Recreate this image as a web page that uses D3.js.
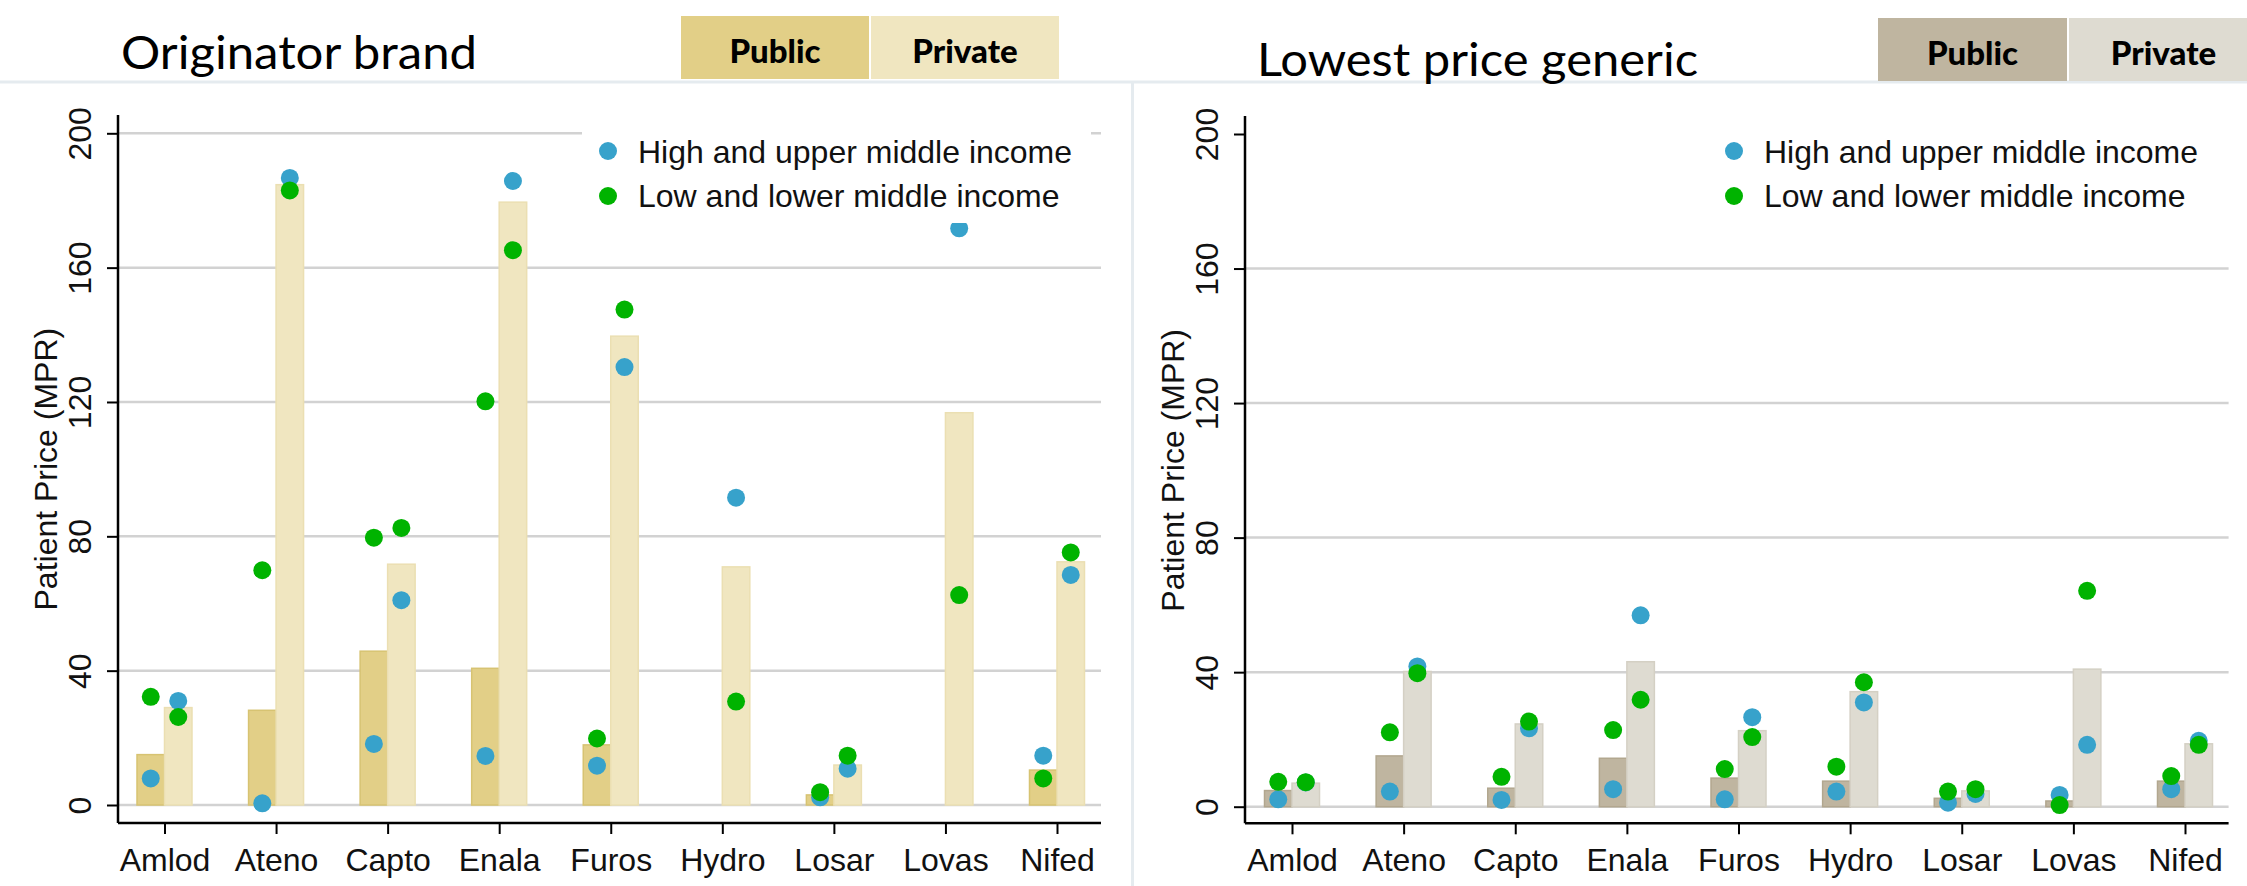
<!DOCTYPE html>
<html>
<head>
<meta charset="utf-8">
<script src="https://cdn.jsdelivr.net/npm/d3@7"></script>
<style>
  body { margin: 0; background: #fff; }
  svg { display: block; }
</style>
</head>
<body>
<div id="chart"></div>
<script>
// Drug names along the x axis.
var drugs = ["Amlod", "Ateno", "Capto", "Enala", "Furos", "Hydro", "Losar", "Lovas", "Nifed"];
var yTicks = [0, 40, 80, 120, 160, 200];
var seriesNames = ["High and upper middle income", "Low and lower middle income"];

// Originator brand: bars are sector medians, dots are income groups.
var origPublicBar   = [15, 28.2, 45.8, 40.7, 17.9, 0, 3, 0, 10.4];
var origPrivateBar  = [29, 184.7, 71.7, 179.5, 139.6, 70.9, 11.9, 116.8, 72.4];
var origPublicHigh  = [7.9, 0.5, 18.2, 14.6, 11.7, null, 2.3, null, 14.7];
var origPublicLow   = [32.2, 69.9, 79.6, 120.2, 19.8, null, 3.8, null, 7.9];
var origPrivateHigh = [31, 186.7, 61, 185.8, 130.4, 91.5, 10.8, 171.7, 68.5];
var origPrivateLow  = [26.2, 183, 82.5, 165.2, 147.5, 30.8, 14.7, 62.5, 75.2];

// Lowest price generic.
var genPublicBar   = [4.8, 15.1, 5.5, 14.4, 8.5, 7.6, 2.5, 1.7, 7.6];
var genPrivateBar  = [7, 40.2, 24.6, 43.1, 22.6, 34.2, 4.7, 40.9, 18.7];
var genPublicHigh  = [2.2, 4.5, 2, 5.2, 2.2, 4.5, 1.2, 3.5, 5.2];
var genPublicLow   = [7.4, 22.1, 8.9, 22.8, 11.2, 11.9, 4.5, 0.5, 9.1];
var genPrivateHigh = [7.2, 41.7, 23.3, 56.9, 26.6, 31, 3.8, 18.4, 19.6];
var genPrivateLow  = [7.3, 39.7, 25.3, 31.8, 20.7, 37, 5.2, 64.2, 18.4];

var width = 2247;
var height = 886;
var blue = "#37a2cb";
var green = "#00b300";
var barW = 27.5;

var panels = [
  {
    title: "Originator brand", titleX: 121, titleY: 69, titleLen: 356,
    boxX: 681, boxY: 16, boxW: 188, boxH: 63,
    pubFill: "#e2cf87", pubStroke: "#d7c372", privFill: "#f0e6c0", privStroke: "#ebdfb2",
    axisX: 118, right: 1101, top: 115, y0: 805, y200: 133.3, xAxisY: 823,
    cat0: 164.5, cat8: 1057, grid: yTicks,
    legendX: 582, legendW: 509,
    pubBar: origPublicBar, privBar: origPrivateBar,
    pubHigh: origPublicHigh, pubLow: origPublicLow,
    privHigh: origPrivateHigh, privLow: origPrivateLow
  },
  {
    title: "Lowest price generic", titleX: 1257, titleY: 76, titleLen: 441,
    boxX: 1878, boxY: 18, boxW: 189, boxH: 63,
    pubFill: "#bfb5a0", pubStroke: "#b2a78f", privFill: "#dedbd1", privStroke: "#d4d0c4",
    axisX: 1245, right: 2228.6, top: 116, y0: 806.7, y200: 134, xAxisY: 823.3,
    cat0: 1292, cat8: 2185, grid: yTicks.slice(0, 5),
    legendX: 1708, legendW: 520,
    pubBar: genPublicBar, privBar: genPrivateBar,
    pubHigh: genPublicHigh, pubLow: genPublicLow,
    privHigh: genPrivateHigh, privLow: genPrivateLow
  }
];

var svg = d3.select("#chart")
  .append("svg")
  .attr("width", width)
  .attr("height", height);

// Light panel frames.
svg.append("line")
  .attr("x1", 0).attr("x2", width)
  .attr("y1", 82).attr("y2", 82)
  .attr("stroke", "#e5ebef").attr("stroke-width", 3);
svg.append("line")
  .attr("x1", 1132.5).attr("x2", 1132.5)
  .attr("y1", 82).attr("y2", height)
  .attr("stroke", "#e5ebef").attr("stroke-width", 3);

panels.forEach(function(p) {
  var g = svg.append("g");

  var x = d3.scalePoint().domain(drugs).range([p.cat0, p.cat8]);
  var y = d3.scaleLinear().domain([0, 200]).range([p.y0, p.y200]);

  // Title and sector colour key.
  g.append("text")
    .attr("x", p.titleX).attr("y", p.titleY)
    .attr("textLength", p.titleLen).attr("lengthAdjust", "spacingAndGlyphs")
    .style("font-family", "Lato, 'Open Sans', sans-serif")
    .style("font-size", "46px")
    .text(p.title);

  var keys = [["Public", p.pubFill], ["Private", p.privFill]];
  keys.forEach(function(k, i) {
    var bx = p.boxX + i * (p.boxW + 2);
    g.append("rect")
      .attr("x", bx).attr("y", p.boxY)
      .attr("width", p.boxW).attr("height", p.boxH)
      .attr("fill", k[1]);
    g.append("text")
      .attr("x", bx + p.boxW / 2).attr("y", p.boxY + 47)
      .attr("text-anchor", "middle")
      .style("font-family", "Lato, 'Open Sans', sans-serif")
      .style("font-weight", "900")
      .style("font-size", "33px")
      .text(k[0]);
  });

  // Gridlines.
  g.selectAll(".grid")
    .data(p.grid)
    .enter().append("line")
    .attr("x1", p.axisX).attr("x2", p.right)
    .attr("y1", function(d) { return y(d); })
    .attr("y2", function(d) { return y(d); })
    .attr("stroke", "#d2d2d2").attr("stroke-width", 2.5);

  // Bars: public to the left of the tick, private to the right.
  var rows = drugs.map(function(d, i) {
    return {
      drug: d, pub: p.pubBar[i], priv: p.privBar[i],
      pubHigh: p.pubHigh[i], pubLow: p.pubLow[i],
      privHigh: p.privHigh[i], privLow: p.privLow[i]
    };
  });

  g.selectAll(".pub")
    .data(rows.filter(function(r) { return r.pub > 0; }))
    .enter().append("rect")
    .attr("x", function(r) { return x(r.drug) - barW; })
    .attr("y", function(r) { return y(r.pub); })
    .attr("width", barW)
    .attr("height", function(r) { return y(0) - y(r.pub); })
    .attr("fill", p.pubFill).attr("stroke", p.pubStroke).attr("stroke-width", 1.5);

  g.selectAll(".priv")
    .data(rows.filter(function(r) { return r.priv > 0; }))
    .enter().append("rect")
    .attr("x", function(r) { return x(r.drug); })
    .attr("y", function(r) { return y(r.priv); })
    .attr("width", barW)
    .attr("height", function(r) { return y(0) - y(r.priv); })
    .attr("fill", p.privFill).attr("stroke", p.privStroke).attr("stroke-width", 1.5);

  // Dots: high income first, low income drawn on top.
  var dots = [];
  rows.forEach(function(r) {
    if (r.pubHigh != null) dots.push({ cx: x(r.drug) - barW / 2, v: r.pubHigh, c: blue });
    if (r.privHigh != null) dots.push({ cx: x(r.drug) + barW / 2, v: r.privHigh, c: blue });
  });
  rows.forEach(function(r) {
    if (r.pubLow != null) dots.push({ cx: x(r.drug) - barW / 2, v: r.pubLow, c: green });
    if (r.privLow != null) dots.push({ cx: x(r.drug) + barW / 2, v: r.privLow, c: green });
  });

  g.selectAll(".dot")
    .data(dots)
    .enter().append("circle")
    .attr("cx", function(d) { return d.cx; })
    .attr("cy", function(d) { return y(d.v); })
    .attr("r", 9)
    .attr("fill", function(d) { return d.c; });

  // Legend sits on a white box over the plot.
  var lg = g.append("g");
  lg.append("rect")
    .attr("x", p.legendX).attr("y", 118)
    .attr("width", p.legendW).attr("height", 105)
    .attr("fill", "#fff");
  seriesNames.forEach(function(name, i) {
    lg.append("circle")
      .attr("cx", p.legendX + 26).attr("cy", 151 + i * 45)
      .attr("r", 9)
      .attr("fill", i === 0 ? blue : green);
    lg.append("text")
      .attr("x", p.legendX + 56).attr("y", 163 + i * 44)
      .style("font-family", "'Liberation Sans', Arial, sans-serif")
      .style("font-size", "32px")
      .attr("fill", "#111")
      .text(name);
  });

  // Y axis.
  var yAxis = g.append("g")
    .attr("transform", "translate(" + p.axisX + ",0)")
    .call(d3.axisLeft(y).tickValues(yTicks).tickSize(11).tickFormat(d3.format("d")));
  yAxis.select(".domain").remove();
  yAxis.selectAll(".tick line").attr("stroke", "#000").attr("stroke-width", 2);
  yAxis.selectAll(".tick text")
    .attr("x", null).attr("dy", null)
    .attr("text-anchor", "middle")
    .attr("transform", "translate(-27,0) rotate(-90)")
    .style("font-family", "'Liberation Sans', Arial, sans-serif")
    .style("font-size", "32px")
    .attr("fill", "#111");

  g.append("line")
    .attr("x1", p.axisX).attr("x2", p.axisX)
    .attr("y1", p.top).attr("y2", p.xAxisY)
    .attr("stroke", "#000").attr("stroke-width", 2.5);

  g.append("text")
    .attr("transform", "translate(" + (p.axisX - 61) + "," + ((p.y0 + p.y200) / 2) + ") rotate(-90)")
    .attr("text-anchor", "middle")
    .style("font-family", "'Liberation Sans', Arial, sans-serif")
    .style("font-size", "32px")
    .attr("fill", "#111")
    .text("Patient Price (MPR)");

  // X axis.
  var xAxis = g.append("g")
    .attr("transform", "translate(0," + p.xAxisY + ")")
    .call(d3.axisBottom(x).tickSize(11));
  xAxis.select(".domain").remove();
  xAxis.selectAll(".tick line").attr("stroke", "#000").attr("stroke-width", 2);
  xAxis.selectAll(".tick text")
    .attr("y", 48).attr("dy", null)
    .style("font-family", "'Liberation Sans', Arial, sans-serif")
    .style("font-size", "32px")
    .attr("fill", "#111");

  g.append("line")
    .attr("x1", p.axisX).attr("x2", p.right)
    .attr("y1", p.xAxisY).attr("y2", p.xAxisY)
    .attr("stroke", "#000").attr("stroke-width", 2.5);
});
</script>
</body>
</html>
